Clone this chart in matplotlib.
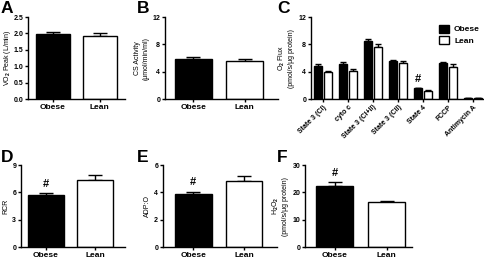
import matplotlib
matplotlib.use("Agg")
import matplotlib.pyplot as plt
from matplotlib.patches import Patch
import numpy as np

plt.rcParams['font.family'] = ['Liberation Sans', 'DejaVu Sans']
plt.rcParams['font.weight'] = 'bold'
plt.rcParams['mathtext.fontset'] = 'custom'
plt.rcParams['mathtext.rm'] = 'Liberation Sans:bold'
plt.rcParams['mathtext.default'] = 'rm'

# data
groups = ["Obese", "Lean"]
vo2 = [1.98, 1.92]
vo2_err = [0.06, 0.08]
cs = [5.8, 5.5]
cs_err = [0.3, 0.35]
states = ["State 3 (CI)", "cyto c", "State 3 (CI+II)", "State 3 (CII)", "State 4", "FCCP", "Antimycin A"]
flux_obese = [4.8, 5.1, 8.5, 5.6, 1.6, 5.2, 0.12]
flux_obese_err = [0.3, 0.35, 0.35, 0.15, 0.06, 0.25, 0.03]
flux_lean = [3.9, 4.15, 7.6, 5.2, 1.2, 4.7, 0.12]
flux_lean_err = [0.25, 0.3, 0.5, 0.35, 0.06, 0.35, 0.03]
rcr = [5.75, 7.3]
rcr_err = [0.15, 0.6]
adpo = [3.85, 4.85]
adpo_err = [0.2, 0.35]
h2o2 = [22.4, 16.3]
h2o2_err = [1.2, 0.7]

W, H = 485, 259
fig = plt.figure(figsize=(W / 100, H / 100), dpi=100)


def make_ax(x0, x1, y0, y1):
    return fig.add_axes([x0 / W, 1 - y1 / H, (x1 - x0) / W, (y1 - y0) / H])


def style(ax, ymax, ticks, fmt=None):
    ax.spines['top'].set_visible(False)
    ax.spines['right'].set_visible(False)
    ax.spines['left'].set_linewidth(1)
    ax.spines['bottom'].set_linewidth(1)
    ax.set_ylim(0, ymax)
    ax.set_yticks(ticks)
    if fmt:
        ax.set_yticklabels([fmt % t for t in ticks])
    ax.tick_params(direction='out', length=2.5, width=1, labelsize=5, pad=1)


def two_bar(ax, vals, errs, xlim, ymax, ticks, ylabel, fmt=None, lpad=2):
    x = np.arange(2)
    ax.bar(x, vals, width=0.72, color=['black', 'white'], edgecolor='black', linewidth=1, zorder=2)
    ax.errorbar(x, vals, yerr=[[0, 0], errs], fmt='none', ecolor='black', elinewidth=1,
                capsize=5, capthick=1, zorder=1)
    ax.set_xlim(*xlim)
    ax.set_xticks(x)
    style(ax, ymax, ticks, fmt)
    ax.set_xticklabels(groups, fontsize=6)
    ax.set_ylabel(ylabel, fontsize=5, labelpad=lpad)


# A
axA = make_ax(28, 125, 17, 99)
two_bar(axA, vo2, vo2_err, (-0.53, 1.54), 2.5, [0, 0.5, 1.0, 1.5, 2.0, 2.5],
        r"VO$_2$ Peak (L/min)", fmt="%.1f", lpad=0.5)
# B
axB = make_ax(165, 278, 17, 99)
two_bar(axB, cs, cs_err, (-0.55, 1.65), 12, [0, 4, 8, 12], "CS Activity\n(μmol/min/ml)")
# D
axD = make_ax(21, 125, 165, 247)
two_bar(axD, rcr, rcr_err, (-0.5, 1.6), 9, [0, 3, 6, 9], "RCR")
axD.text(0, rcr[0] + rcr_err[0] + 0.5, "#", ha='center', va='bottom', fontsize=8)
# E
axE = make_ax(163, 277, 165, 247)
two_bar(axE, adpo, adpo_err, (-0.6, 1.65), 6, [0, 2, 4, 6], "ADP:O")
axE.text(0, adpo[0] + adpo_err[0] + 0.35, "#", ha='center', va='bottom', fontsize=8)
# F
axF = make_ax(305, 412, 165, 247)
two_bar(axF, h2o2, h2o2_err, (-0.57, 1.49), 30, [0, 10, 20, 30],
        "H$_2$O$_2$\n(pmol/s/μg protein)")
axF.text(0, h2o2[0] + h2o2_err[0] + 1.8, "#", ha='center', va='bottom', fontsize=8)

# C
axC = make_ax(311, 484, 17, 99)
xc = np.arange(len(states))
off = 0.2
bw = 0.3
axC.bar(xc - off, flux_obese, width=bw, color='black', edgecolor='black', linewidth=1, zorder=2)
axC.bar(xc + off, flux_lean, width=bw, color='white', edgecolor='black', linewidth=1, zorder=2)
axC.errorbar(xc - off, flux_obese, yerr=[np.zeros(len(states)), flux_obese_err], fmt='none',
             ecolor='black', elinewidth=1, capsize=2, capthick=1, zorder=1)
axC.errorbar(xc + off, flux_lean, yerr=[np.zeros(len(states)), flux_lean_err], fmt='none',
             ecolor='black', elinewidth=1, capsize=2, capthick=1, zorder=1)
axC.set_xlim(-0.48, 6.44)
axC.set_xticks(xc)
style(axC, 12, [0, 4, 8, 12])
axC.set_xticklabels(states, rotation=45, ha='right', rotation_mode='anchor', fontsize=5)
axC.set_ylabel("O$_2$ Flux\n(pmol/s/μg protein)", fontsize=5, labelpad=2)
i4 = states.index("State 4")
axC.text(i4 - off, flux_obese[i4] + flux_obese_err[i4] + 0.6, "#", ha='center', va='bottom', fontsize=8)
axC.legend(handles=[Patch(facecolor='black', edgecolor='black', label='Obese'),
                    Patch(facecolor='white', edgecolor='black', label='Lean')],
           loc='upper right', bbox_to_anchor=(1.02, 1.0), frameon=False, fontsize=6,
           handlelength=1.2, handleheight=1.1, handletextpad=0.6, labelspacing=0.3)

# panel letters
for lab, x, y in [("A", 1, 1), ("B", 137, 1), ("C", 277, 1),
                  ("D", 1, 150), ("E", 137, 150), ("F", 277, 150)]:
    fig.text(x / W, 1 - y / H, lab, fontsize=12.5, fontweight='bold', ha='left', va='top')

fig.savefig("out.png", dpi=100)
